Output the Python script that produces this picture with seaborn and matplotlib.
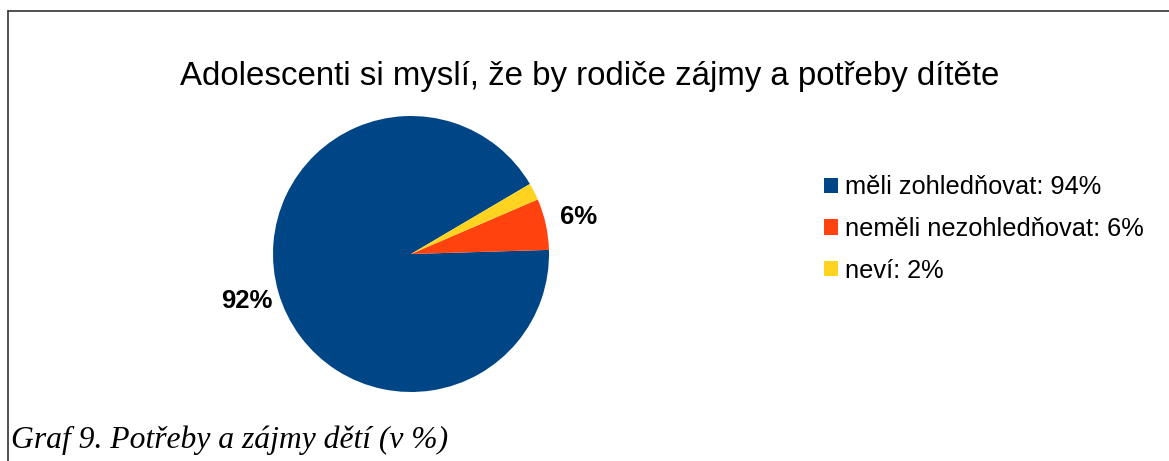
import matplotlib
matplotlib.use("Agg")
import matplotlib.pyplot as plt
from matplotlib.lines import Line2D
import seaborn as sns

# data
categories = ["měli zohledňovat: 94%", "neměli nezohledňovat: 6%", "neví: 2%"]
values = [92, 6, 2]
colors = ["#004586", "#ff420e", "#ffd320"]

sns.set_theme(style="white")
plt.rcParams['font.family'] = ['Liberation Sans', 'DejaVu Sans']
plt.rcParams['text.color'] = 'black'

W, H = 1169, 461
fig = plt.figure(figsize=(W / 100, H / 100), dpi=100)

# pie axes: centre ~(411, 254) px, radius ~138 px
cx, cy, r = 411, 254, 138
ax = fig.add_axes([(cx - r) / W, (H - cy - r) / H, 2 * r / W, 2 * r / H])
wedges, texts, autotexts = ax.pie(
    values,
    colors=colors,
    startangle=30.5,
    counterclock=True,
    autopct=lambda p: f"{p:.0f}%" if p > 3 else "",
    pctdistance=1.24,
    wedgeprops=dict(linewidth=0),
)
for t in autotexts:
    t.set_fontsize(18.5)
    t.set_fontweight("bold")
    t.set_color("black")
ax.set_xlim(-1, 1)
ax.set_ylim(-1, 1)
ax.set_aspect("equal")
ax.axis("off")

fig.text(0.5 * (180 + 1000) / W, 1 - 76 / H,
         "Adolescenti si myslí, že by rodiče zájmy a potřeby dítěte",
         ha="center", va="center", fontsize=23.8, color="black")

leg = fig.legend(wedges, categories, loc="center left",
                 bbox_to_anchor=(811 / W, 1 - 229 / H),
                 frameon=False, fontsize=18.3, handlelength=0.55, handleheight=0.55,
                 handletextpad=0.3, labelspacing=0.7, borderpad=0)
for t in leg.get_texts():
    t.set_color("black")

# frame lines (top and left only)
fig.add_artist(Line2D([8 / W, 1], [1 - 11 / H, 1 - 11 / H], color="#333333", lw=1.2))
fig.add_artist(Line2D([8 / W, 8 / W], [0, 1 - 11 / H], color="#333333", lw=1.2))

fig.text(11 / W, 1 - 440 / H, "Graf 9. Potřeby a zájmy dětí (v %)",
         family=["Liberation Serif", "DejaVu Serif"], style="italic",
         fontsize=22.8, ha="left", va="center", color="black")

fig.savefig("out.png", dpi=100, facecolor="white")
